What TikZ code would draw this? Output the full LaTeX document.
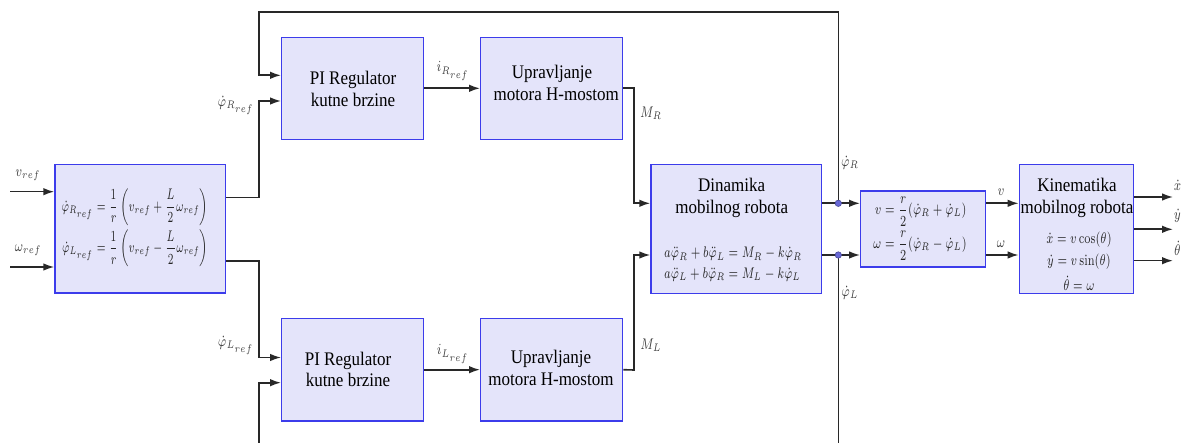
\documentclass[tikz,border=0pt]{standalone}
\usepackage[no-math]{fontspec}
\setmainfont{Liberation Serif}
\usepackage{amsmath}
\usetikzlibrary{arrows.meta}
\definecolor{boxfill}{RGB}{228,228,250}
\definecolor{boxline}{RGB}{60,60,235}
\definecolor{lncol}{RGB}{40,40,40}
\definecolor{dotcol}{RGB}{105,105,215}
\tikzset{
  blk/.style={draw=boxline, fill=boxfill, line width=0.7pt, inner sep=0pt},
  ttl/.style={font=\fontsize{8.5}{9.4}\selectfont, align=center, inner sep=0pt, xscale=1, yscale=1.13, transform shape},
  mth/.style={font=\fontsize{7}{8.5}\selectfont, inner sep=0pt, xscale=0.78, yscale=1.1, transform shape, text=black!85},
  lbl/.style={font=\fontsize{7}{8.5}\selectfont, inner sep=0pt, text=black!75, xscale=0.82, yscale=1.1, transform shape},
  ln/.style={draw=lncol, line width=0.8pt},
  arr/.style={ln, -{Latex[length=5.5pt,width=3.8pt]}},
  jdot/.style={circle, minimum size=3.2pt, inner sep=0pt, fill=dotcol, draw=dotcol!70!black, line width=0.3pt}
}
\setlength{\jot}{1pt}
\begin{document}
\begin{tikzpicture}[x=0.5pt,y=-0.5pt]
\useasboundingbox (0,0) rectangle (1183,443);
% boxes
\node[blk, minimum width=85.35pt, minimum height=64.15pt] (L) at (140.3,228.8) {};
\node[blk, minimum width=71pt, minimum height=51pt] (PIR) at (352.7,88.3) {};
\node[blk, minimum width=71pt, minimum height=51pt] (UR) at (551.7,88.3) {};
\node[blk, minimum width=71pt, minimum height=51.3pt] (PIL) at (352.7,369.7) {};
\node[blk, minimum width=71pt, minimum height=51.3pt] (UL) at (551.7,369.7) {};
\node[blk, minimum width=85.35pt, minimum height=64.5pt] (D) at (736.3,228.8) {};
\node[blk, minimum width=62.5pt, minimum height=38pt] (M) at (923.2,229) {};
\node[blk, minimum width=57pt, minimum height=64.5pt] (K) at (1076.3,228.8) {};
% texts in boxes
\node[mth, xscale=0.92] (Leq) at (135,228) {$\displaystyle\begin{aligned}
 \dot{\varphi}_{R_{ref}} &= \frac{1}{r}\left(v_{ref}+\frac{L}{2}\omega_{ref}\right)\\
 \dot{\varphi}_{L_{ref}} &= \frac{1}{r}\left(v_{ref}-\frac{L}{2}\omega_{ref}\right)
\end{aligned}$};
\node[ttl] (PIRt) at (353,89) {PI Regulator\\kutne brzine};
\node[ttl] (URt) at (552,83) {Upravljanje\\\ \ motora H-mostom};
\node[ttl] (PILt) at (348,369.5) {PI Regulator\\kutne brzine};
\node[ttl] (ULt) at (551,368) {Upravljanje\\motora H-mostom};
\node[ttl] (Dt) at (731.7,198) {Dinamika\\mobilnog robota};
\node[mth] (Deq) at (733,264.5) {$\begin{aligned}
 a\ddot{\varphi}_R+b\ddot{\varphi}_L &= M_R-k\dot{\varphi}_R\\
 a\ddot{\varphi}_L+b\ddot{\varphi}_R &= M_L-k\dot{\varphi}_L
\end{aligned}$};
\node[mth] (Meq) at (920,228.5) {$\displaystyle\begin{aligned}
 v &= \frac{r}{2}(\dot{\varphi}_R+\dot{\varphi}_L)\\
 \omega &= \frac{r}{2}(\dot{\varphi}_R-\dot{\varphi}_L)
\end{aligned}$};
\node[ttl] (Kt) at (1077,198) {Kinematika\\mobilnog robota};
\node[mth] (Ke1) at (1079,240) {$\dot{x}=v\cos(\theta)$};
\node[mth] (Ke2) at (1079,261.7) {$\dot{y}=v\sin(\theta)$};
\node[mth] (Ke3) at (1079,283.3) {$\dot{\theta}=\omega$};
% coordinates
\coordinate (vin) at (10,191.7);
\coordinate (win) at (10,267);
\coordinate (JR) at (838.3,203.3);
\coordinate (JL) at (838.3,255);
\coordinate (xo) at (1173,197);
\coordinate (yo) at (1173,229.3);
\coordinate (to) at (1173,260.7);
% connectors
\draw[arr] (vin) -- (vin -| L.west);
\draw[arr] (win) -- (win -| L.west);
\draw[arr] (L.east |- 0,197.7) -- (259,197.7) |- (PIR.west |- 0,101);
\draw[arr] (JR) |- (259,12) |- (PIR.west |- 0,75.3);
\draw[arr] (PIR.east) -- (UR.west);
\draw[arr] (UR.east) -- (634,88.3) |- (D.west |- JR);
\draw[arr] (L.east |- 0,261) -- (259,261) |- (PIL.west |- 0,357.5);
\draw[arr] (JL) |- (259,470) |- (PIL.west |- 0,382.7);
\draw[arr] (PIL.east) -- (UL.west);
\draw[arr] (UL.east) -- (634,370) |- (D.west |- JL);
\draw[ln] (D.east |- JR) -- (JR);
\draw[ln] (D.east |- JL) -- (JL);
\draw[arr] (JR) -- (M.west |- JR);
\draw[arr] (JL) -- (M.west |- JL);
\draw[arr] (M.east |- JR) -- (K.west |- JR);
\draw[arr] (M.east |- JL) -- (K.west |- JL);
\draw[arr] (K.east |- xo) -- (xo);
\draw[arr] (K.east |- yo) -- (yo);
\draw[arr] (K.east |- to) -- (to);
\node[jdot] (dR) at (JR) {};
\node[jdot] (dL) at (JL) {};
% labels
\node[lbl] (lv) at (28,175) {$v_{ref}$};
\node[lbl] (lw) at (28,250) {$\omega_{ref}$};
\node[lbl] (lpR) at (236,105) {$\dot{\varphi}_{R_{ref}}$};
\node[lbl] (lpL) at (236,345) {$\dot{\varphi}_{L_{ref}}$};
\node[lbl] (liR) at (453,71) {$i_{R_{ref}}$};
\node[lbl] (liL) at (453,354) {$i_{L_{ref}}$};
\node[lbl] (lMR) at (651,113) {$M_R$};
\node[lbl] (lML) at (651,345) {$M_L$};
\node[lbl] (lfR) at (850,163) {$\dot{\varphi}_R$};
\node[lbl] (lfL) at (850,293) {$\dot{\varphi}_L$};
\node[lbl] (lvv) at (1001,192) {$v$};
\node[lbl] (lww) at (1001,244) {$\omega$};
\node[lbl] (lx) at (1177.5,185) {$\dot{x}$};
\node[lbl] (ly) at (1177.5,216) {$\dot{y}$};
\node[lbl] (lt) at (1177.5,248) {$\dot{\theta}$};
\end{tikzpicture}
\end{document}
